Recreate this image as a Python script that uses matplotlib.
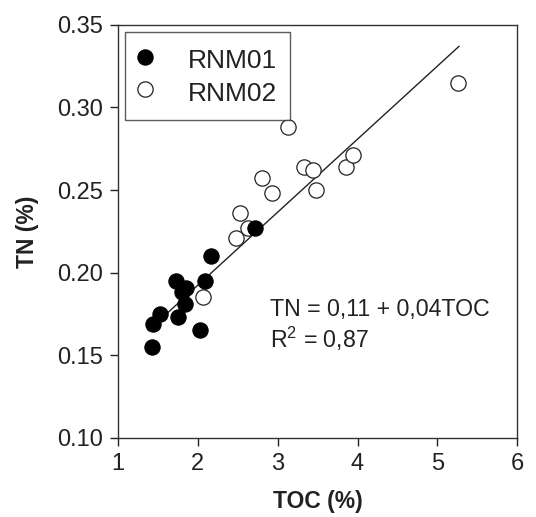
import matplotlib
matplotlib.use("Agg")
import matplotlib.pyplot as plt
import numpy as np

plt.rcParams['font.family'] = ['Liberation Sans', 'DejaVu Sans']
plt.rcParams['mathtext.fontset'] = 'custom'
plt.rcParams['mathtext.rm'] = 'Liberation Sans'

# RNM01 (filled)
toc_rnm01 = [1.43, 1.44, 1.53, 1.75, 1.84, 1.80, 1.85, 1.73, 2.09, 2.16, 2.03, 2.72]
tn_rnm01 = [0.155, 0.169, 0.175, 0.173, 0.181, 0.188, 0.191, 0.195, 0.195, 0.210, 0.165, 0.227]

# RNM02 (open)
toc_rnm02 = [2.07, 2.48, 2.63, 2.53, 2.93, 2.80, 3.13, 3.33, 3.44, 3.48, 3.86, 3.94, 5.26]
tn_rnm02 = [0.185, 0.221, 0.227, 0.236, 0.248, 0.257, 0.288, 0.264, 0.262, 0.250, 0.264, 0.271, 0.315]

# regression line as drawn
fit_intercept = 0.104
fit_slope = 0.0442
fit_range = [1.38, 5.27]

fig = plt.figure(figsize=(5.36, 5.17), dpi=100)
ax = fig.add_axes([0.220, 0.153, 0.745, 0.799])

line_x = np.array(fit_range)
ax.plot(line_x, fit_intercept + fit_slope * line_x, color='#222222', lw=1.0, zorder=1)

ax.plot(toc_rnm01, tn_rnm01, 'o', ms=11, mfc='black', mec='black', mew=0.8,
        label='RNM01', zorder=3)
ax.plot(toc_rnm02, tn_rnm02, 'o', ms=11, mfc='white', mec='#222222', mew=0.9,
        label='RNM02', zorder=2)

ax.set_xlim(1, 6)
ax.set_ylim(0.10, 0.35)
ax.set_xticks([1, 2, 3, 4, 5, 6])
ax.set_yticks([0.10, 0.15, 0.20, 0.25, 0.30, 0.35])
ax.set_yticklabels(['0.10', '0.15', '0.20', '0.25', '0.30', '0.35'])
ax.tick_params(direction='out', length=6, width=1, labelsize=17, colors='#222222',
               labelcolor='#222222', pad=5)

for s in ax.spines.values():
    s.set_color('#333333')
    s.set_linewidth(1.0)

ax.set_xlabel('TOC (%)', fontsize=16.5, fontweight='bold', color='#222222', labelpad=11)
ax.set_ylabel('TN (%)', fontsize=16.5, fontweight='bold', color='#222222', labelpad=13)

ax.text(2.9, 0.178, 'TN = 0,11 + 0,04TOC', fontsize=16.7, va='center', ha='left', color='#222222')
ax.text(2.9, 0.160, 'R$^2$ = 0,87', fontsize=16.7, va='center', ha='left', color='#222222')

leg = ax.legend(loc='upper left', bbox_to_anchor=(0.0175, 0.983), borderaxespad=0,
                fontsize=19, frameon=True, fancybox=False, edgecolor='#333333',
                handletextpad=1.39, labelspacing=0.15, borderpad=0.5, handlelength=0.5,
                handleheight=1.3)
leg.get_frame().set_linewidth(1.0)
for t in leg.get_texts():
    t.set_color('#222222')

fig.savefig('out.png', dpi=100)
